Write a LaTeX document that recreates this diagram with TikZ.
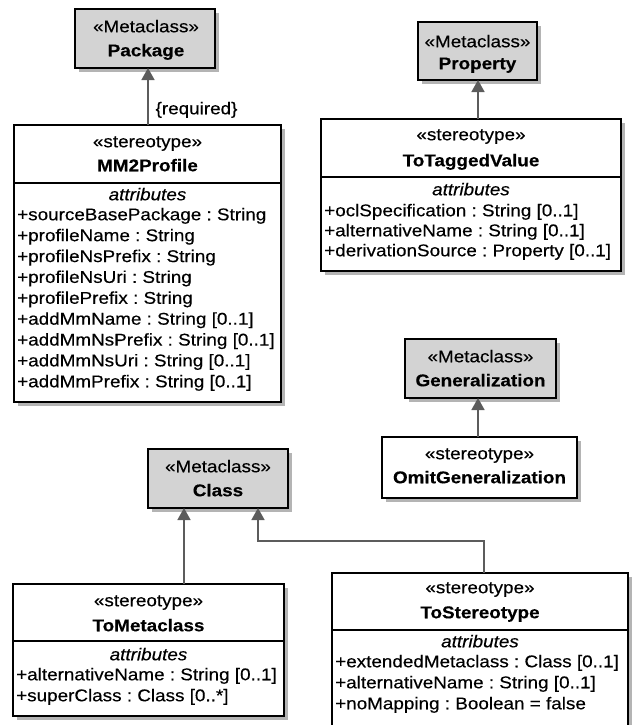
\documentclass[tikz,border=0pt]{standalone}
\usepackage{fontspec}
\setmainfont[FakeStretch=1.11,FakeBold=0.35]{Liberation Sans}
\usetikzlibrary{arrows.meta}
\definecolor{metafill}{HTML}{D3D3D3}
\definecolor{shadowc}{HTML}{B4B4B4}
\definecolor{linec}{HTML}{5C5C5C}
\frenchspacing
\newcommand\umlbox[6]{%
  \fill[shadowc] (#2+4,#3+4) rectangle (#4+4,#5+4);
  \node[boxstyle, fill=#6, minimum width={(#4-#2)*1pt}, minimum height={(#5-#3)*1pt}] (#1) at (#2,#3) {};
}
\begin{document}
\begin{tikzpicture}[x=1pt,y=-1pt,
  boxstyle/.style={draw=black, line width=1.3pt, anchor=north west, inner sep=0pt, outer sep=0pt},
  divline/.style={draw=black, line width=1.3pt},
  txt/.style={inner sep=0pt, text height=12.5pt, text depth=4pt, font=\fontsize{17pt}{21pt}\selectfont\frenchspacing},
  ttl/.style={txt, font=\fontsize{17pt}{21pt}\selectfont\bfseries},
  att/.style={txt, font=\fontsize{17pt}{21pt}\selectfont\itshape},
  row/.style={txt, anchor=west},
  gen/.style={draw=linec, line width=1.5pt, -{Triangle[width=13pt,length=12pt,fill=linec]}}
]
\useasboundingbox (0,0) rectangle (633,725);

% Package
\umlbox{pkg}{75}{9}{215}{68}{metafill}
\node[txt] (pkgS) at (146,28) {«Metaclass»};
\node[ttl] (pkgN) at (146,52) {Package};

% MM2Profile
\umlbox{mm}{14}{125}{281}{402}{white}
\draw[divline] (mm.west |- 0,183) -- (mm.east |- 0,183);
\node[txt] (mmS) at (147.5,143) {«stereotype»};
\node[ttl] (mmN) at (147.5,167) {MM2Profile};
\node[att] (mmA) at (147.5,196) {attributes};
\node[row] (mm1) at (17,216) {+sourceBasePackage : String};
\node[row] (mm2) at (17,236.9) {+profileName : String};
\node[row] (mm3) at (17,257.8) {+profileNsPrefix : String};
\node[row] (mm4) at (17,278.6) {+profileNsUri : String};
\node[row] (mm5) at (17,299.5) {+profilePrefix : String};
\node[row] (mm6) at (17,320.4) {+addMmName : String [0..1]};
\node[row] (mm7) at (17,341.3) {+addMmNsPrefix : String [0..1]};
\node[row] (mm8) at (17,362.1) {+addMmNsUri : String [0..1]};
\node[row] (mm9) at (17,383) {+addMmPrefix : String [0..1]};

% Property
\umlbox{prop}{418}{22}{537}{80}{metafill}
\node[txt] (propS) at (477.5,43) {«Metaclass»};
\node[ttl] (propN) at (477.5,65) {Property};

% ToTaggedValue
\umlbox{ttv}{321}{119}{621}{271}{white}
\draw[divline] (ttv.west |- 0,177) -- (ttv.east |- 0,177);
\node[txt] (ttvS) at (471,136) {«stereotype»};
\node[ttl] (ttvN) at (471,162) {ToTaggedValue};
\node[att] (ttvA) at (471,191) {attributes};
\node[row] (ttv1) at (324,212) {+oclSpecification : String [0..1]};
\node[row] (ttv2) at (324,232) {+alternativeName : String [0..1]};
\node[row] (ttv3) at (324,252) {+derivationSource : Property [0..1]};

% Generalization
\umlbox{gener}{405}{339}{556}{398}{metafill}
\node[txt] (generS) at (480.5,358) {«Metaclass»};
\node[ttl] (generN) at (480.5,382) {Generalization};

% OmitGeneralization
\umlbox{omit}{382}{437}{577}{498}{white}
\node[txt] (omitS) at (479.5,455) {«stereotype»};
\node[ttl] (omitN) at (479.5,479) {OmitGeneralization};

% Class
\umlbox{cls}{148}{449}{288}{508}{metafill}
\node[txt] (clsS) at (218,468) {«Metaclass»};
\node[ttl] (clsN) at (218,492) {Class};

% ToMetaclass
\umlbox{tmc}{13}{584}{284}{716}{white}
\draw[divline] (tmc.west |- 0,641) -- (tmc.east |- 0,641);
\node[txt] (tmcS) at (148.5,602) {«stereotype»};
\node[ttl] (tmcN) at (148.5,627) {ToMetaclass};
\node[att] (tmcA) at (148.5,656) {attributes};
\node[row] (tmc1) at (16,676) {+alternativeName : String [0..1]};
\node[row] (tmc2) at (16,697) {+superClass : Class [0..*]};

% ToStereotype
\umlbox{tst}{332}{573}{628}{745}{white}
\draw[divline] (tst.west |- 0,630) -- (tst.east |- 0,630);
\node[txt] (tstS) at (480,589) {«stereotype»};
\node[ttl] (tstN) at (480,614) {ToStereotype};
\node[att] (tstA) at (480,643) {attributes};
\node[row] (tst1) at (335,663) {+extendedMetaclass : Class [0..1]};
\node[row] (tst2) at (335,684) {+alternativeName : String [0..1]};
\node[row] (tst3) at (335,705) {+noMapping : Boolean = false};

% connector x positions
\coordinate (xa) at (148,0);
\coordinate (xb) at (478,0);
\coordinate (xc) at (184,0);
\coordinate (xd) at (258,0);
\coordinate (xe) at (484,0);
\coordinate (bend) at (0,541);

\draw[gen] (mm.north -| xa) -- (pkg.south -| xa);
\node[txt] (req) at (196.5,110) {\{required\}};
\draw[gen] (ttv.north -| xb) -- (prop.south -| xb);
\draw[gen] (omit.north -| xb) -- (gener.south -| xb);
\draw[gen] (tmc.north -| xc) -- (cls.south -| xc);
\draw[gen] (tst.north -| xe) -- (bend -| xe) -- (bend -| xd) -- (cls.south -| xd);
\end{tikzpicture}
\end{document}
